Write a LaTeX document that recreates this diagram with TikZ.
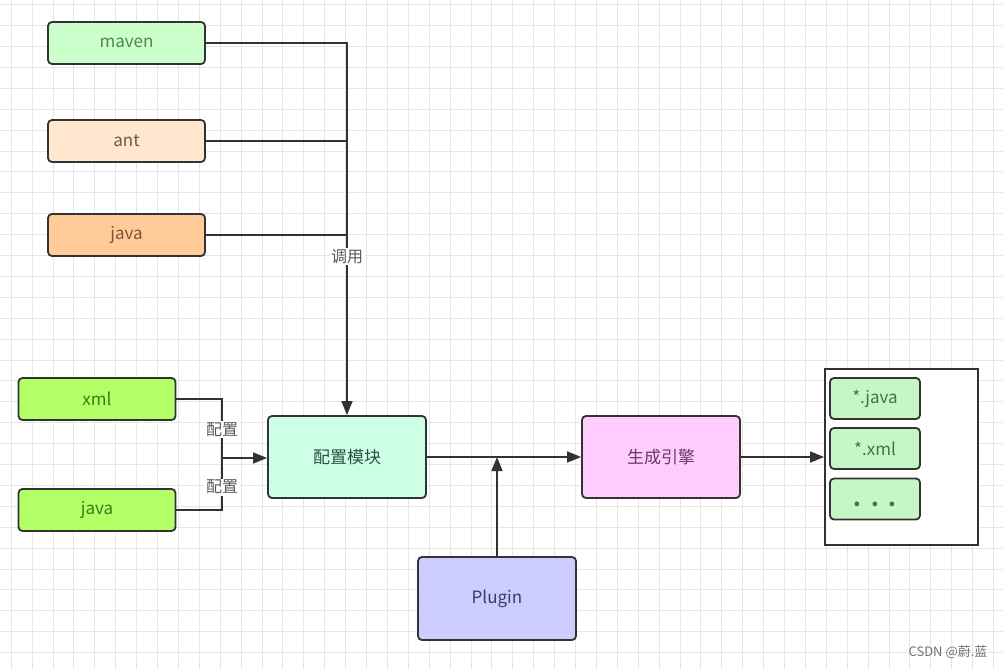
\documentclass[tikz,border=0pt]{standalone}
\usepackage{fontspec}
\setmainfont{Noto Sans CJK SC}
\usetikzlibrary{arrows.meta}
\definecolor{gridc}{HTML}{E6E6E6}
\definecolor{edgec}{HTML}{333333}
\definecolor{mavenf}{HTML}{CCFFCC}\definecolor{mavent}{HTML}{4A8A4A}
\definecolor{antf}{HTML}{FFE6CC}\definecolor{antt}{HTML}{6B5A4A}
\definecolor{javaf}{HTML}{FFCC99}\definecolor{javat}{HTML}{7A5535}
\definecolor{limef}{HTML}{B3FF66}\definecolor{limet}{HTML}{3F7A1A}
\definecolor{modf}{HTML}{CCFFE6}\definecolor{modt}{HTML}{2F4F45}
\definecolor{genf}{HTML}{FFCCFF}\definecolor{gent}{HTML}{6A3A6A}
\definecolor{plugf}{HTML}{CCCCFF}\definecolor{plugt}{HTML}{3B3B6B}
\definecolor{outf}{HTML}{C6F5C6}\definecolor{outt}{HTML}{3D7A3D}
\tikzset{
  box/.style={draw=edgec, line width=1.8pt, rounded corners=4pt, inner sep=0pt, font=\fontsize{17}{20}\selectfont},
  smallbox/.style={box, minimum width=157pt, minimum height=42pt},
  bigbox/.style={box, minimum width=158pt, minimum height=82pt},
  outbox/.style={box, minimum width=90pt, minimum height=41pt},
  conn/.style={draw=edgec, line width=1.6pt},
  arr/.style={conn, -{Triangle[length=14pt,width=11pt]}},
  lab/.style={fill=white, inner sep=1.5pt, text=black!65, font=\fontsize{16}{19}\selectfont},
}
\begin{document}
\begin{tikzpicture}[x=1pt,y=-1pt]
\useasboundingbox (0,0) rectangle (1003,669);
\fill[white] (0,0) rectangle (1003,669);
\foreach \i in {0,...,48} {\draw[gridc, line width=0.6pt] (11+20.9*\i,0) -- (11+20.9*\i,669);}
\foreach \j in {0,...,32} {\draw[gridc, line width=0.6pt] (0,4.5+20.9*\j) -- (1003,4.5+20.9*\j);}

\node[smallbox, fill=mavenf, text=mavent] (maven) at (126.5,43) {maven};
\node[smallbox, fill=antf, text=antt] (ant) at (126.5,141) {ant};
\node[smallbox, fill=javaf, text=javat] (javaA) at (126.5,235) {java};
\node[smallbox, fill=limef, text=limet] (xml) at (97,399) {xml};
\node[smallbox, fill=limef, text=limet] (javaB) at (97,510) {java};
\node[bigbox, fill=modf, text=modt] (mod) at (347,457) {配置模块};
\node[bigbox, fill=genf, text=gent] (gen) at (661,457) {生成引擎};
\node[bigbox, fill=plugf, text=plugt, minimum height=83pt] (plug) at (497,598.5) {Plugin};

\node[draw=edgec, line width=1.8pt, minimum width=153pt, minimum height=176pt, inner sep=0pt, fill=white] (cont) at (901.5,457) {};
\node[outbox, fill=outf, text=outt] (o1) at (875,398.5) {*.java};
\node[outbox, fill=outf, text=outt] (o2) at (875,448.5) {*.xml};
\node[outbox, fill=outf, text=outt, font=\fontsize{22}{22}\bfseries] (o3) at (875,499) {\raisebox{-7pt}[0pt][0pt]{.\hspace{10pt}.\hspace{10pt}.}};

\coordinate (j) at (222,458);

\draw[arr] (maven.east) -| node[lab, pos=0.787] {调用} (mod.north);
\draw[conn] (ant.east) -- (ant.east -| mod.north);
\draw[conn] (javaA.east) -- (javaA.east -| mod.north);

\draw[conn] (xml.east) -| node[lab, pos=0.76] {配置} (j);
\draw[conn] (javaB.east) -| node[lab, pos=0.72] {配置} (j);
\draw[arr] (j) -- (mod.west |- j);

\draw[arr] (mod.east) -- (gen.west);
\draw[arr] (plug.north) -- (plug.north |- mod.east);
\draw[arr] (gen.east) -- (cont.west);

\node[text=black!55, font=\fontsize{13}{15}\selectfont] (wm) at (948,652) {CSDN @蔚.蓝};
\end{tikzpicture}
\end{document}
